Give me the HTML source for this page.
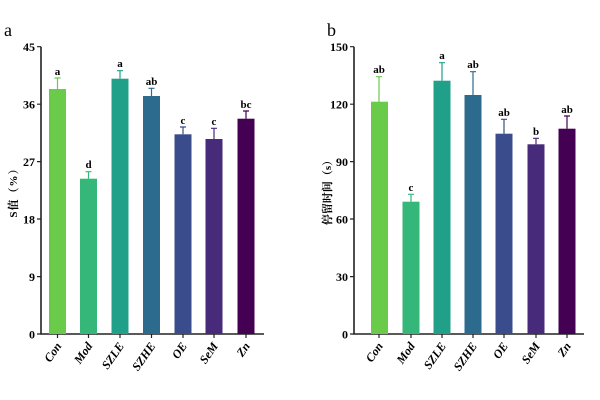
<!DOCTYPE html>
<html><head><meta charset="utf-8"><style>
html,body{margin:0;padding:0;background:#fff;}
svg{display:block;font-family:"Liberation Serif","Noto Serif CJK SC",serif;font-weight:bold;}
</style></head><body>
<svg width="600" height="400" viewBox="0 0 600 400" xmlns="http://www.w3.org/2000/svg">
<text x="4" y="36" font-size="18" font-weight="normal">a</text>
<text x="327" y="36" font-size="18" font-weight="normal">b</text>
<g fill="none" stroke="#222" stroke-width="1.6">
<path d="M41 46.7V334H264"/>
<path d="M354 46.7V334H584"/>
</g>
<g stroke="#222" stroke-width="1.2">
<path d="M37 46.7h4M37 104.2h4M37 161.6h4M37 219h4M37 276.6h4M37 334h4"/>
<path d="M350 46.7h4M350 104.2h4M350 161.6h4M350 219h4M350 276.6h4M350 334h4"/>
<path d="M57.5 334v4M88.5 334v4M120 334v4M151.5 334v4M183 334v4M214 334v4M246 334v4"/>
<path d="M379 334v4M411 334v4M442 334v4M473 334v4M504 334v4M536 334v4M567 334v4"/>
</g>
<g font-size="12" text-anchor="end">
<text x="35" y="51">45</text><text x="35" y="108.5">36</text><text x="35" y="166">27</text><text x="35" y="223.5">18</text><text x="35" y="281">9</text><text x="35" y="338.5">0</text>
<text x="348" y="51">150</text><text x="348" y="108.5">120</text><text x="348" y="166">90</text><text x="348" y="223.5">60</text><text x="348" y="281">30</text><text x="348" y="338.5">0</text>
</g>
<text transform="translate(17,190) rotate(-90)" font-size="11" text-anchor="middle" letter-spacing="1">S值（%）</text>
<text transform="translate(331,190) rotate(-90)" font-size="11" text-anchor="middle">停留时间（s）</text>
<g>
<rect x="49" y="89" width="17" height="245" fill="#6acb4a"/>
<rect x="80" y="178.7" width="17" height="155.3" fill="#35b779"/>
<rect x="111.5" y="78.7" width="17" height="255.3" fill="#20a088"/>
<rect x="143" y="96" width="17" height="238" fill="#2c6b8e"/>
<rect x="174.5" y="134.3" width="17" height="199.7" fill="#3b4c8c"/>
<rect x="205.5" y="139" width="17" height="195" fill="#472a7a"/>
<rect x="237.5" y="118.7" width="17" height="215.3" fill="#440154"/>
</g>
<g stroke-width="1.2">
<path d="M57.5 89V78M54.5 78h6" stroke="#6acb4a"/>
<path d="M88.5 178.7v-7M85.5 171.7h6" stroke="#35b779"/>
<path d="M120 78.7v-8M117 70.7h6" stroke="#20a088"/>
<path d="M151.5 96v-7.7M148.5 88.3h6" stroke="#2c6b8e"/>
<path d="M183 134.3V127M180 127h6" stroke="#3b4c8c"/>
<path d="M214 139v-10.7M211 128.3h6" stroke="#472a7a"/>
<path d="M246 118.7V111M243 111h6" stroke="#440154"/>
</g>
<g font-size="11" text-anchor="middle">
<text x="57.5" y="75">a</text><text x="88.5" y="168">d</text><text x="120" y="67">a</text><text x="151.5" y="85">ab</text><text x="183" y="124">c</text><text x="214" y="125">c</text><text x="246" y="108">bc</text>
</g>
<g>
<rect x="371" y="101.7" width="17" height="232.3" fill="#6acb4a"/>
<rect x="402.5" y="201.7" width="17" height="132.3" fill="#35b779"/>
<rect x="433.5" y="80.7" width="17" height="253.3" fill="#20a088"/>
<rect x="464.5" y="95" width="17" height="239" fill="#2c6b8e"/>
<rect x="495.5" y="133.7" width="17" height="200.3" fill="#3b4c8c"/>
<rect x="527.5" y="144.3" width="17" height="189.7" fill="#472a7a"/>
<rect x="558.5" y="128.7" width="17" height="205.3" fill="#440154"/>
</g>
<g stroke-width="1.2">
<path d="M379 101.7v-25M376 76.7h6" stroke="#6acb4a"/>
<path d="M411 201.7v-7.4M408 194.3h6" stroke="#35b779"/>
<path d="M442 80.7v-18M439 62.7h6" stroke="#20a088"/>
<path d="M473 95V71.7M470 71.7h6" stroke="#2c6b8e"/>
<path d="M504 133.7v-14.4M501 119.3h6" stroke="#3b4c8c"/>
<path d="M536 144.3v-6M533 138.3h6" stroke="#472a7a"/>
<path d="M567 128.7V116M564 116h6" stroke="#440154"/>
</g>
<g font-size="11" text-anchor="middle">
<text x="379" y="73">ab</text><text x="411" y="191">c</text><text x="442" y="59">a</text><text x="473" y="68">ab</text><text x="504" y="116">ab</text><text x="536" y="135">b</text><text x="567" y="113">ab</text>
</g>
<g font-size="12" font-style="italic" text-anchor="end">
<text transform="translate(62,346) rotate(-55)">Con</text>
<text transform="translate(93,346) rotate(-55)">Mod</text>
<text transform="translate(124.5,346) rotate(-55)">SZLE</text>
<text transform="translate(156,346) rotate(-55)">SZHE</text>
<text transform="translate(187.5,346) rotate(-55)">OE</text>
<text transform="translate(218.5,346) rotate(-55)">SeM</text>
<text transform="translate(250.5,346) rotate(-55)">Zn</text>
<text transform="translate(383.5,346) rotate(-55)">Con</text>
<text transform="translate(415.5,346) rotate(-55)">Mod</text>
<text transform="translate(446.5,346) rotate(-55)">SZLE</text>
<text transform="translate(477.5,346) rotate(-55)">SZHE</text>
<text transform="translate(508.5,346) rotate(-55)">OE</text>
<text transform="translate(540.5,346) rotate(-55)">SeM</text>
<text transform="translate(571.5,346) rotate(-55)">Zn</text>
</g>
</svg>
</body></html>
